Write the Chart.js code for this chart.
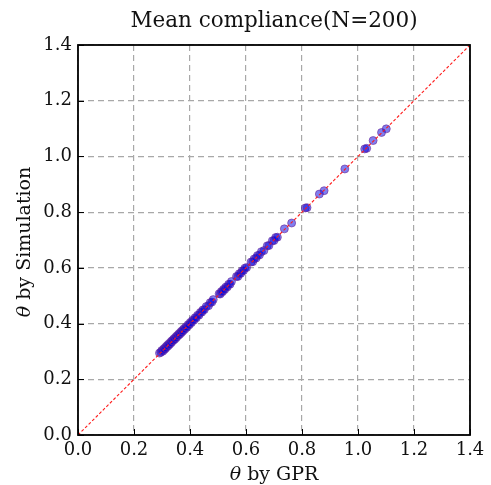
<!DOCTYPE html>
<html>
<head>
<meta charset="utf-8">
<script src="https://cdn.jsdelivr.net/npm/chart.js@4.4.1/dist/chart.umd.min.js"></script>
<style>
  html, body { margin: 0; padding: 0; background: #fff; }
  #wrap { width: 491px; height: 485px; }
</style>
</head>
<body>
<div id="wrap"><canvas id="chart"></canvas></div>
<script>
// theta predicted by GPR vs theta from simulation
const gprTheta = [
  0.291, 0.296, 0.299, 0.303, 0.306, 0.309, 0.312, 0.314, 0.318, 0.321,
  0.323, 0.327, 0.330, 0.333, 0.336, 0.339, 0.342, 0.345, 0.348, 0.351,
  0.354, 0.357, 0.360, 0.363, 0.366, 0.369, 0.372, 0.375, 0.378, 0.382,
  0.385, 0.389, 0.393, 0.397, 0.401, 0.405, 0.409, 0.414, 0.418, 0.422,
  0.427, 0.432, 0.437, 0.442, 0.446, 0.451, 0.458, 0.466, 0.472, 0.478,
  0.483, 0.504, 0.508, 0.512, 0.516, 0.520, 0.524, 0.528, 0.533, 0.538,
  0.543, 0.548, 0.566, 0.571, 0.576, 0.581, 0.586, 0.591, 0.596, 0.602,
  0.618, 0.624, 0.629, 0.636, 0.641, 0.648, 0.655, 0.664, 0.676, 0.682,
  0.694, 0.700, 0.706, 0.712, 0.737, 0.763, 0.812, 0.818, 0.862, 0.879,
  0.953, 1.024, 1.031, 1.054, 1.084, 1.101
];
const simTheta = [
  0.294, 0.297, 0.303, 0.301, 0.309, 0.307, 0.315, 0.312, 0.321, 0.319,
  0.326, 0.325, 0.333, 0.331, 0.339, 0.338, 0.345, 0.343, 0.351, 0.349,
  0.357, 0.356, 0.363, 0.361, 0.369, 0.367, 0.375, 0.373, 0.381, 0.380,
  0.388, 0.387, 0.396, 0.395, 0.404, 0.403, 0.412, 0.412, 0.421, 0.420,
  0.430, 0.430, 0.440, 0.441, 0.449, 0.450, 0.461, 0.464, 0.475, 0.477,
  0.486, 0.507, 0.506, 0.515, 0.514, 0.523, 0.522, 0.531, 0.531, 0.541,
  0.541, 0.551, 0.569, 0.569, 0.579, 0.580, 0.589, 0.590, 0.599, 0.601,
  0.621, 0.622, 0.632, 0.635, 0.644, 0.646, 0.658, 0.662, 0.679, 0.680,
  0.697, 0.698, 0.709, 0.710, 0.740, 0.761, 0.815, 0.816, 0.865, 0.877,
  0.955, 1.027, 1.029, 1.057, 1.086, 1.099
];
const tickValues = [0, 0.2, 0.4, 0.6, 0.8, 1.0, 1.2, 1.4];
const diagonal = [0, 1.4];

const chartTitle = 'Mean compliance(N=200)';
const xLabel = ['θ', ' by GPR'];
const yLabel = ['θ', ' by Simulation'];

const points = gprTheta.map((g, i) => ({ x: g, y: simTheta[i] }));
const serif = "'DejaVu Serif', serif";

// draws "θ" in italic then the rest upright, centred on (0,0) of current transform
function mixedLabel(ctx, parts, size) {
  const it = 'italic ' + size + 'px ' + serif;
  const up = size + 'px ' + serif;
  ctx.font = it; const w1 = ctx.measureText(parts[0]).width;
  ctx.font = up; const w2 = ctx.measureText(parts[1]).width;
  let x = -(w1 + w2) / 2;
  ctx.textBaseline = 'middle';
  ctx.textAlign = 'left';
  ctx.font = it; ctx.fillText(parts[0], x, 0);
  ctx.font = up; ctx.fillText(parts[1], x + w1, 0);
}

// matplotlib style: ticks pointing inward, full black frame, titles
const frameTicks = {
  id: 'frameTicks',
  afterDatasetsDraw(chart) {
    const { ctx, chartArea: a, scales } = chart;
    ctx.save();
    ctx.strokeStyle = '#000';
    ctx.lineWidth = 1;
    tickValues.forEach(v => {
      const px = Math.round(scales.x.getPixelForValue(v)) + 0.5;
      const py = Math.round(scales.y.getPixelForValue(v)) + 0.5;
      ctx.beginPath();
      ctx.moveTo(px, a.bottom); ctx.lineTo(px, a.bottom - 6);
      ctx.moveTo(a.left, py); ctx.lineTo(a.left + 6, py);
      ctx.stroke();
    });
    ctx.lineWidth = 1.8;
    ctx.strokeRect(a.left, a.top, a.right - a.left, a.bottom - a.top);

    const cx = (a.left + a.right) / 2;
    const cy = (a.top + a.bottom) / 2;
    ctx.fillStyle = '#111';
    ctx.font = '21.5px ' + serif;
    ctx.textAlign = 'center';
    ctx.textBaseline = 'middle';
    ctx.fillText(chartTitle, cx, 21);

    ctx.save();
    ctx.translate(cx, 475);
    mixedLabel(ctx, xLabel, 19);
    ctx.restore();

    ctx.save();
    ctx.translate(25, cy + 2);
    ctx.rotate(-Math.PI / 2);
    mixedLabel(ctx, yLabel, 19);
    ctx.restore();
    ctx.restore();
  }
};

new Chart(document.getElementById('chart'), {
  type: 'scatter',
  data: {
    datasets: [
      {
        data: diagonal.map(v => ({ x: v, y: v })),
        showLine: true,
        borderColor: '#ff1a1a',
        borderWidth: 1.1,
        borderDash: [3, 2],
        pointRadius: 0,
        order: 0
      },
      {
        data: points,
        backgroundColor: 'rgba(0, 0, 225, 0.5)',
        borderColor: 'rgba(110, 40, 150, 0.6)',
        borderWidth: 1,
        pointRadius: 4,
        order: 1
      }
    ]
  },
  options: {
    responsive: true,
    maintainAspectRatio: false,
    animation: false,
    layout: { padding: { left: 0, right: 21, top: 45, bottom: 0 } },
    plugins: {
      legend: { display: false },
      tooltip: { enabled: false },
      title: { display: false }
    },
    scales: {
      x: {
        type: 'linear', min: 0, max: 1.4,
        afterBuildTicks: s => { s.ticks = tickValues.map(v => ({ value: v })); },
        afterFit: s => { s.height = 50; },
        grid: { color: '#a8a8a8', lineWidth: 1.2, drawTicks: false },
        border: { display: false, dash: [6, 4] },
        ticks: {
          color: '#111', padding: 5,
          font: { family: serif, size: 18 },
          callback: v => v.toFixed(1)
        }
      },
      y: {
        type: 'linear', min: 0, max: 1.4,
        afterBuildTicks: s => { s.ticks = tickValues.map(v => ({ value: v })); },
        afterFit: s => { s.width = 78; },
        grid: { color: '#a8a8a8', lineWidth: 1.2, drawTicks: false },
        border: { display: false, dash: [6, 4] },
        ticks: {
          color: '#111', padding: 6,
          font: { family: serif, size: 18 },
          callback: v => v.toFixed(1)
        }
      }
    }
  },
  plugins: [frameTicks]
});
</script>
</body>
</html>
